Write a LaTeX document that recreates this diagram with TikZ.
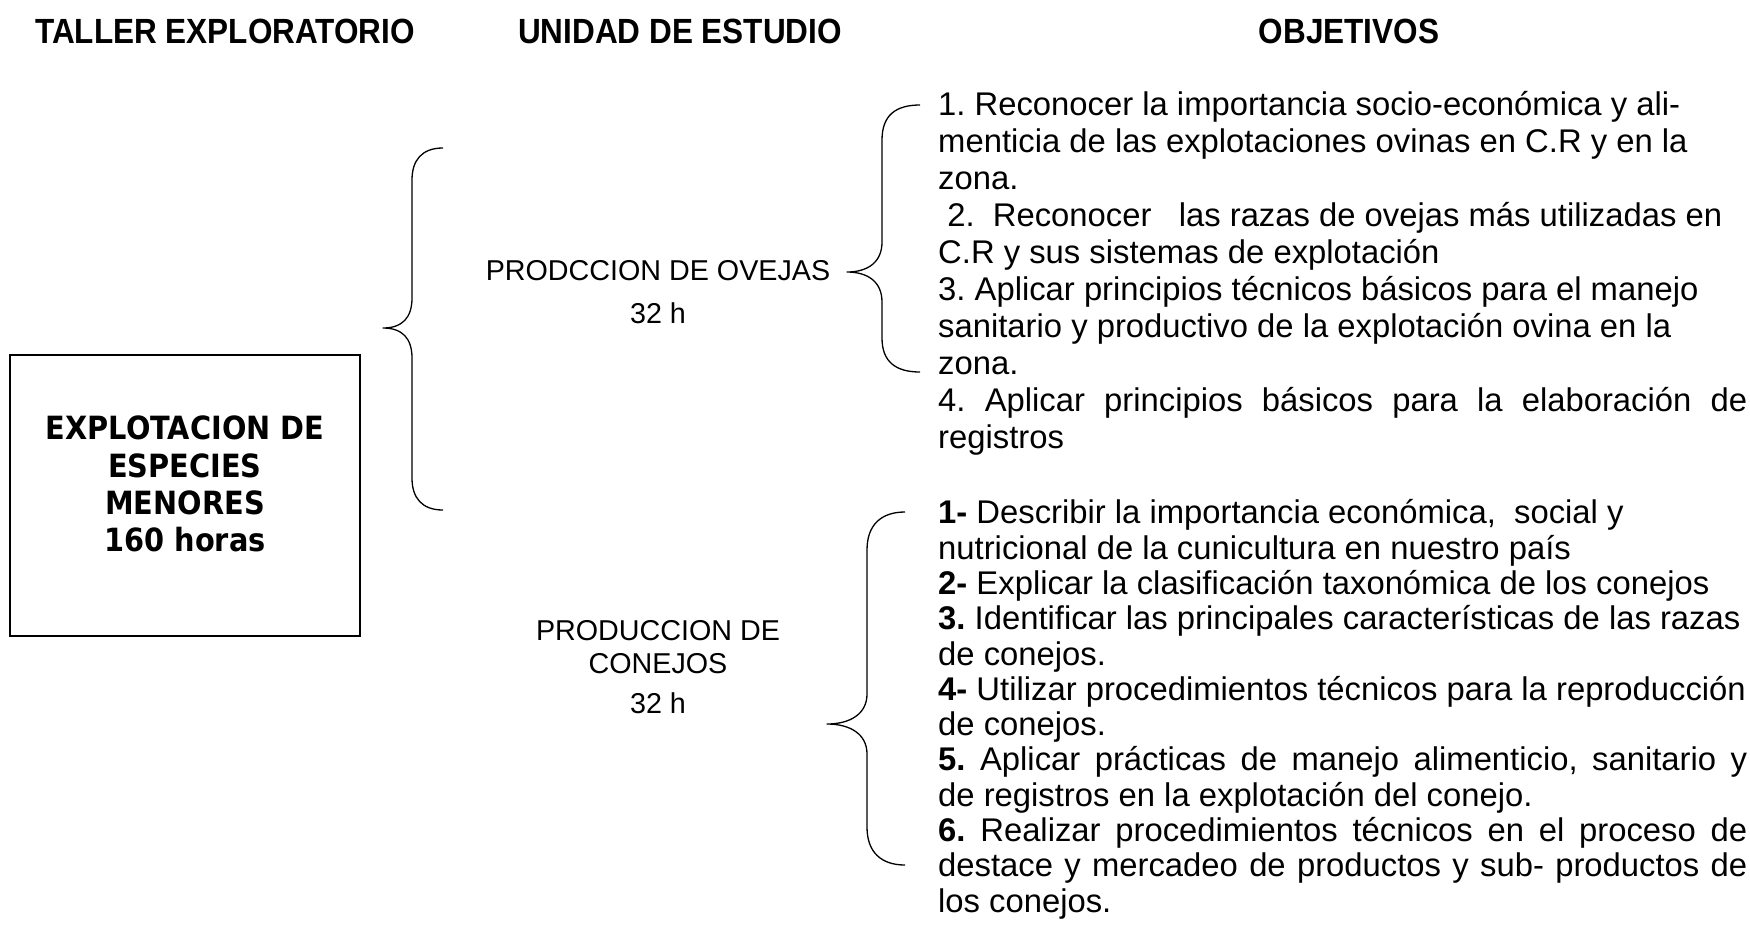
\documentclass[tikz,border=0pt]{standalone}
\usepackage{fontspec}
\setmainfont{Liberation Sans}
\newfontfamily\headfont[FakeStretch=0.9]{Liberation Sans}
\newfontfamily\boxfont[FakeStretch=0.9]{DejaVu Sans}
\frenchspacing
\begin{document}
\begin{tikzpicture}[x=1pt,y=-1pt,
  head/.style={font=\headfont\bfseries\fontsize{35pt}{40pt}\selectfont, anchor=base, inner sep=0pt},
  mid/.style={font=\fontsize{28.7pt}{34pt}\selectfont, anchor=base, inner sep=0pt},
  obj/.style={anchor=base west, inner sep=0pt},
  boxtext/.style={font=\boxfont\bfseries\fontsize{32pt}{37.3pt}\selectfont, align=center, inner sep=0pt},
  bracket/.style={line width=1.3pt, line join=round},
  frame/.style={draw, line width=1.3pt, minimum width=350pt, minimum height=281pt, inner sep=0pt}]
\useasboundingbox (0,0) rectangle (1750,927);

% headings
\node[head] (h1) at (225,43) {TALLER EXPLORATORIO};
\node[head] (h2) at (680,43) {UNIDAD DE ESTUDIO};
\node[head] (h3) at (1349,43) {OBJETIVOS};

% main box
\node[frame] (box) at (185,495.5) {};
\node[boxtext] (boxt) at (185,484) {EXPLOTACION DE\\ESPECIES\\MENORES\\160 horas};

% brace 1
\draw[bracket] (443,148) .. controls (422,148) and (412,160) .. (412,180)
  -- (412,298) .. controls (412,318) and (402,328) .. (383,328)
  .. controls (402,328) and (412,338) .. (412,358)
  -- (412,478) .. controls (412,498) and (422,510) .. (443,510);

% unidad ovejas
\node[mid] (ov) at (658,280) {PRODCCION DE OVEJAS};
\node[mid] (ovh) at (658,323) {32 h};

% brace 2
\draw[bracket] (920,105) .. controls (896,105) and (882,115) .. (882,140)
  -- (882,242) .. controls (882,262) and (868,272) .. (847,272)
  .. controls (868,272) and (882,282) .. (882,302)
  -- (882,338) .. controls (882,362) and (896,372) .. (920,372);

% objetivos ovejas
\node[obj] (ovobj) at (938,115.5) {\parbox[t]{809pt}{\fontsize{32.8pt}{37pt}\selectfont
\mbox{1. Reconocer la importancia socio-económica y ali-}\\
\mbox{menticia de las explotaciones ovinas en C.R y en la}\\
\mbox{zona.}\\
\mbox{\ 2.\ \ Reconocer\ \ \ las razas de ovejas más utilizadas en}\\
\mbox{C.R y sus sistemas de explotación}\\
\mbox{3. Aplicar principios técnicos básicos para el manejo}\\
\mbox{sanitario y productivo de la explotación ovina en la}\\
\mbox{zona.}\\
\makebox[\linewidth][s]{4. Aplicar principios básicos para la elaboración de}\\
\mbox{registros}}};

% unidad conejos
\node[mid] (coa) at (658,640) {PRODUCCION DE};
\node[mid] (cob) at (658,673) {CONEJOS};
\node[mid] (coh) at (658,713) {32 h};

% brace 3
\draw[bracket] (905,512) .. controls (882,512) and (867,524) .. (867,550)
  -- (867,694) .. controls (867,714) and (850,724) .. (827,724)
  .. controls (850,724) and (867,734) .. (867,754)
  -- (867,827) .. controls (867,853) and (882,865) .. (905,865);

% objetivos conejos
\node[obj] (coobj) at (938,523.8) {\parbox[t]{809pt}{\fontsize{32.8pt}{35.3pt}\selectfont
\mbox{\textbf{1-} Describir la importancia económica,\ \ social y}\\
\mbox{nutricional de la cunicultura en nuestro país}\\
\mbox{\textbf{2-} Explicar la clasificación taxonómica de los conejos}\\
\mbox{\textbf{3.} Identificar las principales características de las razas}\\
\mbox{de conejos.}\\
\mbox{\textbf{4-} Utilizar procedimientos técnicos para la reproducción}\\
\mbox{de conejos.}\\
\makebox[\linewidth][s]{\textbf{5.} Aplicar prácticas de manejo alimenticio, sanitario y}\\
\mbox{de registros en la explotación del conejo.}\\
\makebox[\linewidth][s]{\textbf{6.} Realizar procedimientos técnicos en el proceso de}\\
\makebox[\linewidth][s]{destace y mercadeo de productos y sub- productos de}\\
\mbox{los conejos.}}};
\end{tikzpicture}
\end{document}
